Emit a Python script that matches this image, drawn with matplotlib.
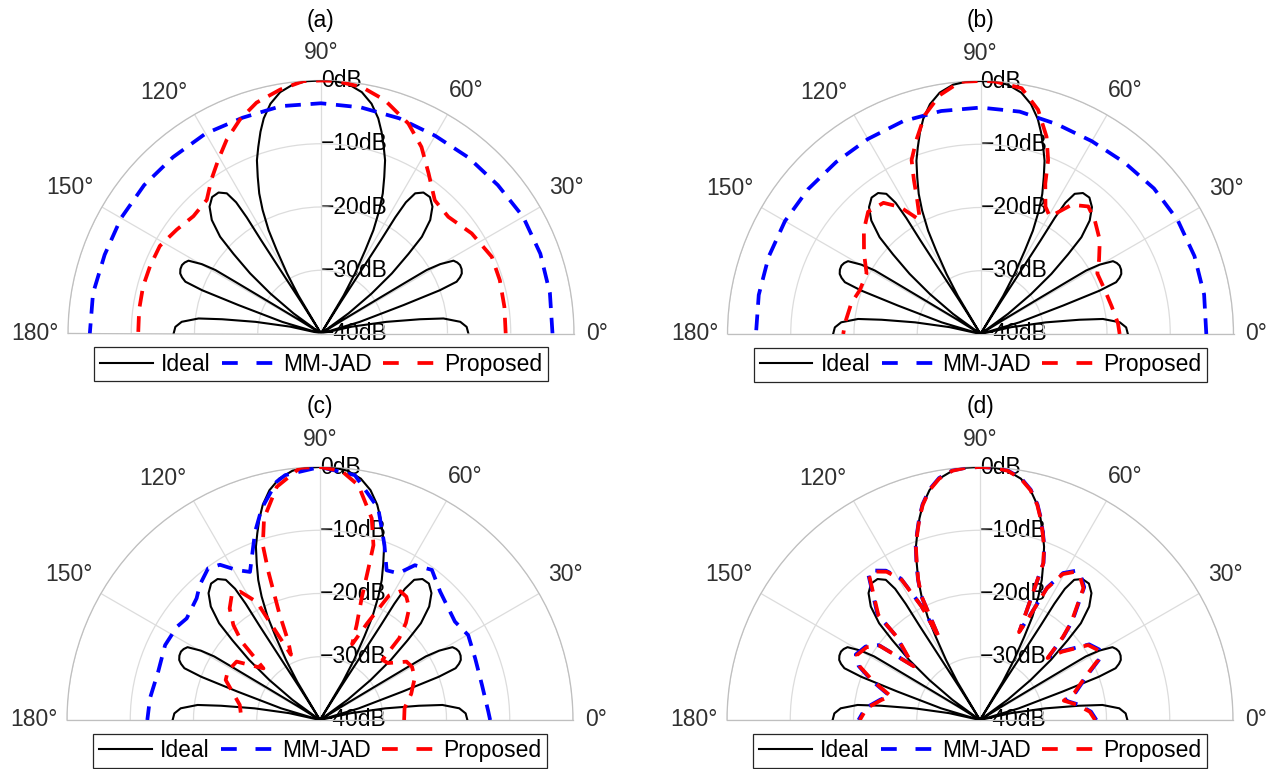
import numpy as np
import matplotlib.pyplot as plt
from matplotlib.lines import Line2D

plt.rcParams['font.family'] = ['Liberation Sans', 'DejaVu Sans']

# ---- data: angle (deg) / level (dB) ----
# ideal beampattern, right half 90 -> 0 deg (mirrored for 90 -> 180)
ideal_th = [90, 86.8, 83.7, 80.4, 77.6, 75.1, 73.3, 71.4, 69.7, 68.0, 66.2, 64.7, 63.1, 62.0, 60.5, 59.2, 58.5,
            57.8, 57.4, 57.3, 57.4, 57.1, 56.1, 54.0, 51.4, 48.7, 46.1, 43.8, 42.3, 40.3, 38.3, 36.2, 34.0,
            31.8, 31.3, 31.1, 31.0, 30.2, 28.8, 27.5, 26.2, 24.6, 23.1, 22.0, 20.9, 20.0, 19.0, 16.7, 15.0,
            12.5, 10.1, 8.2, 7.0, 4.8, 2.6, 0]
ideal_db = [0, -0.05, -0.35, -1.3, -2.8, -4.8, -6.7, -8.9, -10.8, -13.3, -15.8, -18.4, -21.7, -25.1, -29.1, -33.0, -40,
            -34, -28, -22.4, -18.2, -15.3, -13.3, -12.45, -12.4, -13.3, -15.1, -17.9, -21.3, -25.3, -29.8, -34.6, -40,
            -36, -30, -24, -20.5, -18.2, -16.1, -15.7, -15.5, -15.55, -15.8, -16.3, -17.05, -20, -26.2, -33.6, -40,
            -35, -29.5, -24.2, -20.5, -17.9, -16.95, -16.7]

# (a)
a_mm_th = [0, 10, 20, 30, 40, 50, 60, 70, 80, 90, 100, 110, 120, 130, 140, 150, 160, 170, 180]
a_mm_db = [-3.4, -3.25, -3.1, -3.1, -3.5, -3.7, -3.9, -3.8, -3.7, -3.6, -3.5, -3.7, -3.5, -3.6, -3.5, -3.5, -3.6, -3.4, -3.45]
a_pr_th = [0, 8.3, 16.6, 24.2, 33.6, 42.5, 49.5, 56.1, 61.7, 67.4, 74.7, 80.6, 86.8, 90, 94, 99.5, 105.6, 110.7,
           115.9, 120.5, 125.4, 130.5, 137.4, 144.2, 151.5, 158.5, 165.1, 172.5, 180]
a_pr_db = [-10.8, -10.7, -10.5, -10.4, -11.4, -12.7, -12.3, -9.5, -6.5, -4.05, -1.75, -0.5, 0, 0, 0, -0.9, -2.1, -3.8,
           -5.9, -8.05, -10.1, -12.2, -12.6, -11.9, -11.0, -10.95, -10.9, -11.0, -11.1]

# (b)
b_mm_th = [0, 10, 20, 30, 40, 50, 60, 70, 80, 90, 100, 110, 120, 130, 140, 150, 160, 170, 180]
b_mm_db = [-4.3, -4.1, -4.0, -4.0, -4.2, -4.6, -4.8, -4.7, -4.3, -4.2, -4.2, -4.2, -4.4, -4.5, -4.4, -4.3, -4.35, -4.4, -4.5]
b_pr_th = [0, 4.4, 11.8, 19.5, 27.4, 32, 38.2, 44.9, 49.8, 54.8, 59.4, 62.96, 66.7, 68.75, 71.5, 75.6, 80.5, 86.8, 90,
           94.6, 99.7, 104.3, 108.3, 111.6, 113.4, 115.3, 118, 122.4, 126.5, 132.6, 138.3, 145.3, 152, 160, 166.6, 175.5, 180]
b_pr_db = [-18.0, -18.2, -18.8, -19.15, -19.2, -17.9, -16.0, -14.5, -13.6, -15.0, -18.45, -17.4, -14.1, -10.5, -7.1, -3.4, -0.6, 0, 0,
           0, -1.7, -4.3, -7.7, -10.4, -13.5, -16.6, -19.6, -16.2, -14.2, -13.75, -15.3, -17.6, -19.6, -19.7, -19.0, -18.5, -18.3]

# (c)
c_mm_th = [0, 2.8, 12.2, 21.7, 29.8, 36.1, 46.9, 53.3, 58.5, 61.9, 66.0, 69.8, 74.6, 81.9, 90,
           98.1, 100.3, 105.4, 109, 111.8, 115.3, 119, 122.8, 126.4, 131.6, 135.4, 142.7, 146.9, 154.2, 163.4, 172.7, 180]
c_mm_db = [-13.1, -13.35, -13.8, -13.6, -13.0, -13.6, -12.2, -10.4, -11.3, -13.7, -14.1, -10.5, -5.3, -0.9, 0,
           -0.9, -1.7, -5.3, -8.5, -11.3, -14.1, -12.9, -10.8, -10.2, -11.4, -12.6, -13.5, -13.0, -12.8, -13.3, -12.9, -12.7]
c_pr_th = [0, 8, 16, 24, 30, 34, 40, 43.9, 45.9, 48.5, 51.4, 55, 58, 61, 64, 67, 68.9, 71.1, 72.3, 73, 75.6, 80.7, 85, 90,
           94.5, 100.5, 105.5, 108.1, 109.2, 110.9, 112, 114, 118.2, 121.9, 125.2, 129, 132.4, 135, 137.6, 145, 152, 157, 169.4, 180]
c_pr_db = [-26.7, -26.5, -25, -23.6, -23.2, -23.5, -26, -26.3, -22, -19.5, -17.4, -16.2, -16.0, -17.5, -23, -27, -23.9, -19.7, -14.8, -11.1, -7.1, -2.4, -0.5, 0,
           0, -2.5, -6.9, -10.9, -15.2, -21.95, -26.6, -28.7, -18.8, -16.1, -15.8, -17.3, -19.7, -22.5, -27.9, -23.9, -23.5, -23.8, -27.1, -27.6]

# (d)
d_pr_th = [0, 4.3, 9, 13, 16, 22.9, 27, 30.6, 34.7, 39.9, 42.5, 45, 47, 51.9, 55, 57.4, 60.5, 63.1, 64.5,
           66.0, 68.0, 69.7, 71.4, 73.3, 75.1, 77.6, 80.4, 83.7, 86.8, 90,
           93.2, 96.3, 99.6, 102.4, 104.9, 106.7, 108.6, 110.3, 112, 113.8, 115.3, 116.5,
           117.2, 119.2, 122.2, 125.7, 127.5, 130.1, 134.1, 135, 139.4, 141,
           143.5, 147.3, 152.2, 156, 160, 165, 168.5, 174, 180]
d_pr_db = [-21.8, -22.6, -24.5, -26.4, -24.5, -21.7, -19, -18.3, -19.2, -23.2, -25.5, -21.5, -18.8, -13.5, -12.4, -12.2, -13.5, -16.7, -22,
           -24.8, -13.3, -10.8, -8.9, -6.7, -4.8, -2.8, -1.3, -0.35, -0.05, 0,
           -0.05, -0.35, -1.3, -2.8, -4.8, -6.7, -8.9, -10.8, -13.3, -15.8, -18.4, -25.7,
           -19.9, -14.6, -12.3, -11.1, -11.2, -13.8, -16.9, -21.4, -25.4, -26.5,
           -20.3, -18.7, -18.0, -19.2, -22, -25.4, -24.1, -22, -21.0]
d_mm_th = d_pr_th
d_mm_db = [-21.6, -22.4, -24.3, -26.2, -24.3, -21.5, -18.8, -18.1, -19.0, -23.0, -25.3, -21.3, -18.6, -13.3, -12.2, -12.0, -13.3, -16.5, -21.8,
           -24.6, -13.2, -10.7, -8.8, -6.6, -4.7, -2.7, -1.2, -0.3, -0.05, 0,
           -0.05, -0.3, -1.2, -2.7, -4.7, -6.6, -8.8, -10.7, -13.2, -15.7, -18.2, -25.5,
           -19.7, -14.4, -12.1, -10.9, -11.0, -13.6, -16.7, -21.2, -25.2, -26.3,
           -20.1, -18.5, -17.8, -19.0, -21.8, -25.2, -23.9, -21.8, -20.8]

panels = [
    ('(a)', a_mm_th, a_mm_db, a_pr_th, a_pr_db),
    ('(b)', b_mm_th, b_mm_db, b_pr_th, b_pr_db),
    ('(c)', c_mm_th, c_mm_db, c_pr_th, c_pr_db),
    ('(d)', d_mm_th, d_mm_db, d_pr_th, d_pr_db),
]

# ---- layout (pixels) ----
W, H = 1277, 769
R = 253
centers = [(321, 333.5), (980.5, 334), (320, 720), (980, 720)]
FS = 16.5
GRAY = '#303030'
GRID = '#dcdcdc'

ith = np.array(ideal_th)
idb = np.array(ideal_db)
ideal_full_th = np.concatenate([(180 - ith)[::-1], ith[1:]])
ideal_full_db = np.concatenate([idb[::-1], idb[1:]])

# angle label placement: label -> (direction deg, radius in dB units)
lab_pos = {0: (0, 3.6), 30: (30.7, 5.2), 60: (59.2, 4.75), 90: (90, 4.4),
           120: (123, 5.5), 150: (149.8, 5.85), 180: (180, 5.2)}

fig = plt.figure(figsize=(W / 100, H / 100), dpi=100)

for (name, mth, mdb, pth, pdb), (cx, cy) in zip(panels, centers):
    # square box; the half-disc sits in its middle, pole at (cx, cy)
    ax = fig.add_axes([(cx - R) / W, (H - cy - 0.5 * R) / H, 2 * R / W, 2 * R / H], projection='polar')
    ax.set_thetamin(0)
    ax.set_thetamax(180)
    ax.set_rlim(-40, 0)
    ax.set_rticks([-40, -30, -20, -10, 0])
    ax.set_yticklabels([])
    ax.set_thetagrids(range(0, 181, 30), labels=[''] * 7)
    ax.grid(True, color=GRID, lw=0.9)
    for s in ax.spines.values():
        s.set_color('#bfbfbf')
        s.set_linewidth(0.9)

    ax.plot(np.deg2rad(ideal_full_th), ideal_full_db, color='black', lw=1.5, zorder=3)
    ax.plot(np.deg2rad(mth), np.clip(mdb, -40, 0), color='#0000ff', lw=2.7,
            linestyle=(0, (4.2, 2.6)), zorder=4)
    ax.plot(np.deg2rad(pth), np.clip(pdb, -40, 0), color='#ff0000', lw=2.7,
            linestyle=(0, (4.2, 2.6)), zorder=5)

    for t, (a, rr) in lab_pos.items():
        ax.text(np.deg2rad(a), rr, f'{t}°', ha='center', va='center', fontsize=FS,
                color=GRAY, clip_on=False)
    for v in [0, -10, -20, -30, -40]:
        ax.text(np.pi / 2, v, f'{v}dB'.replace('-', '\u2212'), ha='left', va='center',
                fontsize=FS, color='black', zorder=1, clip_on=False)

    fig.text(cx / W, 1 - (cy - 313) / H, name, ha='center', va='center', fontsize=FS)

    handles = [Line2D([], [], color='black', lw=1.5),
               Line2D([], [], color='#0000ff', lw=2.7, linestyle=(0, (4.2, 5.0))),
               Line2D([], [], color='#ff0000', lw=2.7, linestyle=(0, (4.2, 5.0)))]
    leg = fig.legend(handles, ['Ideal', 'MM-JAD', 'Proposed'], loc='upper center',
                     bbox_to_anchor=(cx / W, 1 - (cy + 13.5) / H), ncol=3, fontsize=FS,
                     frameon=True, fancybox=False, framealpha=1, edgecolor='#262626',
                     handlelength=2.3, handletextpad=0.35, columnspacing=0.5,
                     borderpad=0.25, borderaxespad=0)
    leg.get_frame().set_linewidth(0.9)

fig.savefig('out.png', dpi=100)
